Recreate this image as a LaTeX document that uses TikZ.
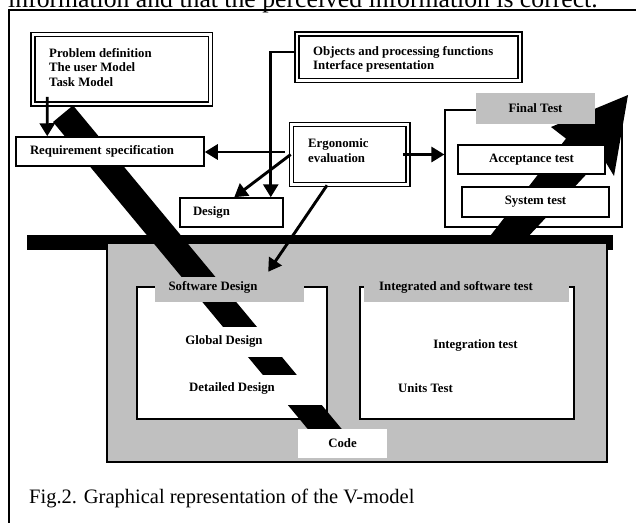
\documentclass[tikz,border=0pt]{standalone}
\usepackage{fontspec}
\setmainfont{Liberation Serif}
\usetikzlibrary{arrows.meta}
\definecolor{vgray}{RGB}{192,192,192}
\begin{document}
\begin{tikzpicture}[x=1pt,y=-1pt,
  lbl/.style={font=\fontsize{12.8}{14.5}\selectfont\bfseries, inner sep=0pt},
  dbox/.style={draw, line width=1.6pt, double, double distance=2.2pt, fill=white, inner sep=0pt},
  sbox/.style={draw, line width=1.5pt, fill=white, inner sep=0pt, font=\fontsize{12.8}{14.5}\selectfont\bfseries},
  tbox/.style={draw, line width=1.2pt, inner sep=0pt},
  glab/.style={fill=vgray, inner sep=0pt, font=\fontsize{12.8}{14.5}\selectfont\bfseries},
  wcov/.style={fill=white, inner sep=0pt},
  arr/.style={line width=2.9pt, -{Triangle[length=13pt,width=15pt]}},
]
\useasboundingbox (0,0) rectangle (636,522);
\clip (0,0) rectangle (636,522);
\fill[white] (0,0) rectangle (636,522);

% text above the figure (clipped)
\node[anchor=base west, font=\fontsize{25.7}{30}\selectfont, inner sep=0pt] (toptext) at (8,8) {information and that the perceived information is correct.};

% outer frame
\draw[line width=1.6pt] (9,540) -- (9,10) -- (650,10);

% horizontal black band and grey block
\fill (27,235) rectangle (613,250);
\node[draw, line width=1.2pt, fill=vgray, minimum width=500pt, minimum height=219pt, inner sep=0pt] (gbox) at (357,352.5) {};

% inner white boxes
\node[draw, line width=1.5pt, fill=white, minimum width=190pt, minimum height=132pt, inner sep=0pt] (swd) at (232,353) {};
\node[draw, line width=1.5pt, fill=white, minimum width=214pt, minimum height=132pt, inner sep=0pt] (itb) at (467,353) {};

% left arm of the V
\fill (53,122) -- (73,105.4) -- (355,445) -- (321,445) -- cycle;

% grey labels
\node[glab, minimum width=149pt, minimum height=25pt] (swlab) at (229.5,289.5) {};
\node[lbl] (swtxt) at (213,287) {Software Design};
\node[glab, minimum width=205pt, minimum height=25pt] (itlab) at (466.5,289.5) {};
\node[lbl] (ittxt) at (456,287) {Integrated and software test};

% white covers with texts
\node[wcov, minimum width=182pt, minimum height=30pt] (gdcov) at (231,342) {};
\node[lbl] (gd) at (224,341) {Global Design};
\node[wcov, minimum width=184pt, minimum height=30pt] (ddcov) at (232,390) {};
\node[lbl] (dd) at (232,388) {Detailed Design};
\node[lbl] (it) at (475.5,345) {Integration test};
\node[lbl, anchor=west] (ut) at (398,388) {Units Test};
\node[wcov, minimum width=89pt, minimum height=29pt, font=\fontsize{12.8}{14.5}\selectfont\bfseries] (code) at (342.5,443.5) {Code};

% top-left boxes
\node[dbox, minimum width=177.5pt, minimum height=69.5pt] (prob) at (121.75,69.25) {};
\node[lbl, anchor=west, align=left] (probtxt) at (49,67.5) {Problem definition\\The user Model\\Task Model};
\node[sbox, minimum width=188pt, minimum height=29pt, text width=160pt, inner xsep=14pt, align=left] (req) at (110,151.5) {Requirement specification};
\node[sbox, minimum width=103pt, minimum height=29pt, text width=77pt, inner xsep=13pt, align=left] (dsg) at (231.5,212.5) {Design};

\node[dbox, minimum width=223pt, minimum height=46.5pt] (obj) at (408.5,57.25) {};
\node[lbl, anchor=west, align=left] (objtxt) at (313,59.5) {Objects and processing functions\\Interface presentation};
\node[dbox, minimum width=116.5pt, minimum height=60pt] (erg) at (349.75,154.5) {};
\node[lbl, anchor=west, align=left] (ergtxt) at (308,150.5) {Ergonomic\\evaluation};

% final test group
\node[tbox, minimum width=177pt, minimum height=117pt] (ft) at (533.5,168.5) {};
% right arm of the V (big arrow)
\fill (487,240) -- (566,138.6) -- (551,127) -- (628,95) -- (614,176) -- (602.5,157) -- (525,240) -- cycle;
\node[glab, minimum width=119pt, minimum height=31pt] (ftlab) at (535.5,108.5) {Final Test};
\node[sbox, minimum width=147pt, minimum height=29pt] (acc) at (531.5,159.5) {Acceptance test};
\node[sbox, minimum width=147pt, minimum height=30pt] (sys) at (535.5,202) {System test};

% connectors
\draw[arr] ([xshift=15pt,yshift=8pt]prob.south west) -- ([xshift=32pt]req.north west);
\draw[arr] ([xshift=-5.5pt,yshift=2.5pt]erg.west) -- ([yshift=2.5pt]erg.west -| req.east);
\draw[arr] ([yshift=5.25pt]obj.west) -| ([xshift=-13pt]dsg.north east);
\draw[arr] (erg.west) -- ([xshift=55pt]dsg.north west);
\draw[arr] ([xshift=-22.75pt]erg.south) -- ([xshift=-36pt,yshift=5pt]swlab.north east);
\draw[arr] ([xshift=-6pt]erg.east) -- (erg.east -| ft.west);

% caption
\node[anchor=base west, font=\fontsize{20.5}{24}\selectfont, inner sep=0pt] (cap) at (29,503) {Fig.2. Graphical representation of the V-model};
\end{tikzpicture}
\end{document}
